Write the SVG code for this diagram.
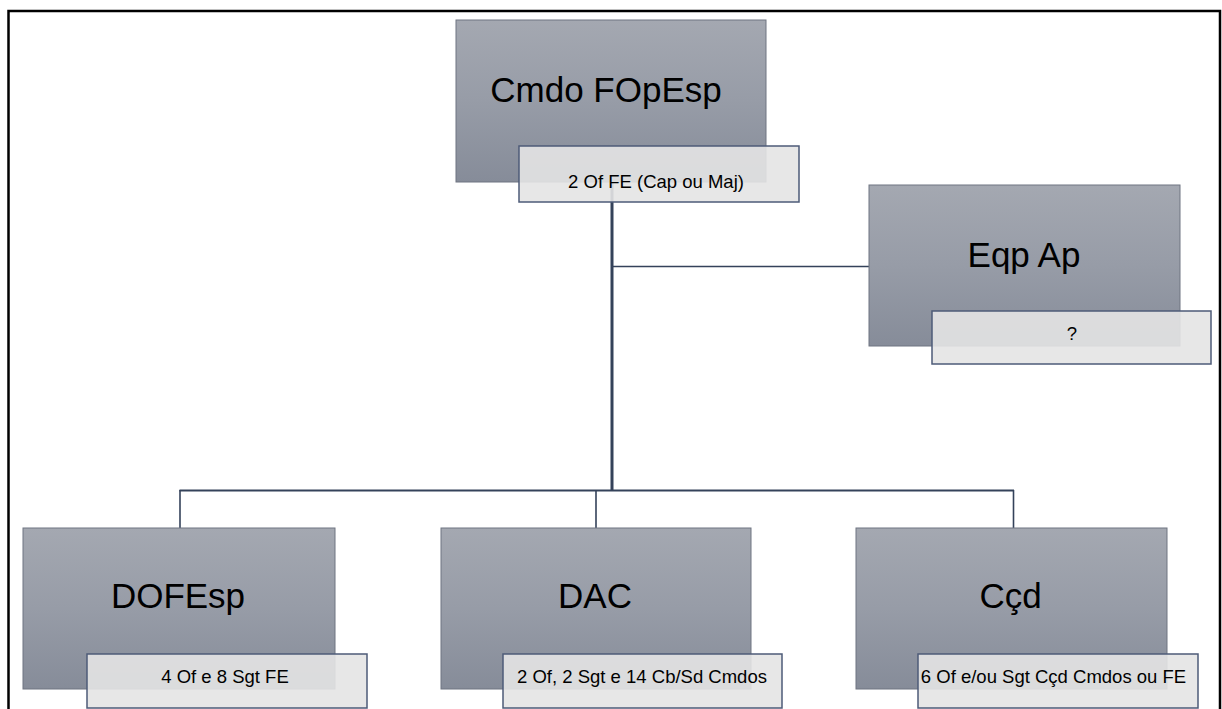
<svg xmlns="http://www.w3.org/2000/svg" width="1222" height="709" viewBox="0 0 1222 709">
<defs>
<linearGradient id="ng" x1="0" y1="0" x2="0" y2="1">
<stop offset="0" stop-color="#a4a8b1"/>
<stop offset="0.5" stop-color="#979ca7"/>
<stop offset="1" stop-color="#868c99"/>
</linearGradient>
<style>
.node{fill:url(#ng);stroke:#6f7581;stroke-width:1}
.lab{fill:#e4e4e4;fill-opacity:0.9;stroke:#4d5b78;stroke-width:1.5}
.title{font-family:"Liberation Sans",Arial,sans-serif;font-size:35px;fill:#000;text-anchor:middle}
.sub{font-family:"Liberation Sans",Arial,sans-serif;font-size:18.5px;fill:#000;text-anchor:middle}
.conn{fill:none;stroke:#34425a;stroke-linecap:butt}
</style>
</defs>
<rect width="1222" height="709" fill="#fff"/>
<path d="M8.5,709 V11 H1220 V709" fill="none" stroke="#000" stroke-width="2.5"/>
<g id="connectors">
<line class="conn" x1="612" y1="182" x2="612" y2="491" stroke-width="3"/>
<line class="conn" x1="612" y1="266.5" x2="869" y2="266.5" stroke-width="1.6"/>
<line class="conn" x1="179.5" y1="490.5" x2="1014" y2="490.5" stroke-width="2"/>
<line class="conn" x1="180" y1="490" x2="180" y2="528" stroke-width="1.6"/>
<line class="conn" x1="596" y1="490" x2="596" y2="528" stroke-width="1.6"/>
<line class="conn" x1="1013.5" y1="490" x2="1013.5" y2="528" stroke-width="1.6"/>
</g>
<g id="cmdo">
<rect class="node" x="456" y="20" width="310" height="162"/>
<text class="title" x="606" y="102">Cmdo FOpEsp</text>
<rect class="lab" x="519" y="146" width="280" height="56"/>
<text class="sub" x="656" y="188">2 Of FE (Cap ou Maj)</text>
</g>
<g id="eqpap">
<rect class="node" x="869" y="185" width="311" height="161"/>
<text class="title" x="1024" y="267">Eqp Ap</text>
<rect class="lab" x="932" y="311" width="279" height="53"/>
<text class="sub" x="1072" y="340">?</text>
</g>
<g id="dofesp">
<rect class="node" x="23" y="528" width="312" height="161"/>
<text class="title" x="178" y="608">DOFEsp</text>
<rect class="lab" x="87" y="654" width="280" height="54"/>
<text class="sub" x="225" y="683">4 Of e 8 Sgt FE</text>
</g>
<g id="dac">
<rect class="node" x="441" y="528" width="310" height="161"/>
<text class="title" x="595" y="608">DAC</text>
<rect class="lab" x="503" y="654" width="279" height="54"/>
<text class="sub" x="642" y="683">2 Of, 2 Sgt e 14 Cb/Sd Cmdos</text>
</g>
<g id="ccd">
<rect class="node" x="856" y="528" width="311" height="161"/>
<text class="title" x="1010.5" y="608">Cçd</text>
<rect class="lab" x="918" y="654" width="280" height="54"/>
<text class="sub" x="1053.5" y="683">6 Of e/ou Sgt Cçd Cmdos ou FE</text>
</g>
</svg>
